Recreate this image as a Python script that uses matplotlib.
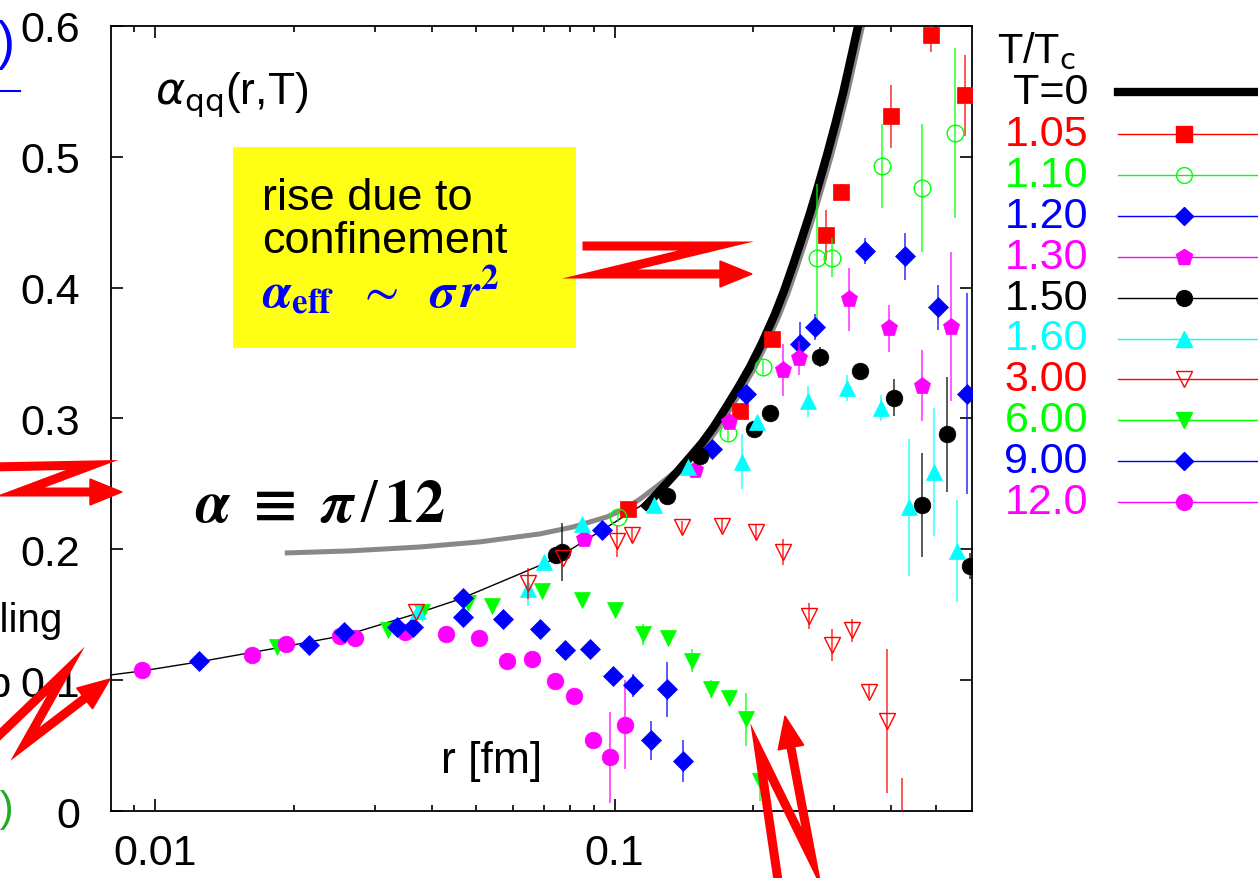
import matplotlib
matplotlib.use("Agg")
import matplotlib.pyplot as plt
from matplotlib.lines import Line2D
from matplotlib.patches import Polygon, Rectangle
from matplotlib.ticker import NullFormatter
import numpy as np

plt.rcParams['font.family'] = ['Liberation Sans', 'DejaVu Sans']

# T = 0 curves
r_pert = [0.00799, 0.00933, 0.01243, 0.01866, 0.0261, 0.03636, 0.04604, 0.06003,
          0.07122, 0.08115, 0.09622, 0.1136, 0.1255]
a_pert = [0.104, 0.107, 0.114, 0.125, 0.1346, 0.150, 0.162, 0.179,
          0.190, 0.201, 0.217, 0.233, 0.246]
r_t0 = [0.1153, 0.1224, 0.1300, 0.1373, 0.1459, 0.1549, 0.1637, 0.1696, 0.1756, 0.1856,
        0.1971, 0.2094, 0.2235, 0.2338, 0.2446, 0.2546, 0.2664, 0.2774, 0.2900, 0.3020,
        0.3144, 0.3256, 0.3389, 0.3528]
a_t0 = [0.231, 0.2408, 0.2508, 0.2599, 0.2706, 0.2813, 0.2928, 0.3012, 0.3096, 0.3234,
        0.3394, 0.3578, 0.3800, 0.3976, 0.4174, 0.4358, 0.4572, 0.4778, 0.5015, 0.5245,
        0.5489, 0.5726, 0.6001, 0.629]
r_pi12 = [0.01912, 0.0265, 0.03767, 0.05088, 0.06876, 0.08115, 0.09622, 0.1053, 0.1136,
          0.1255, 0.1353, 0.1459, 0.1581, 0.1671, 0.1730, 0.1792, 0.1894, 0.2011, 0.2136,
          0.2280, 0.2386, 0.2496, 0.2598, 0.2718, 0.2829, 0.2960, 0.3081, 0.3207, 0.3321,
          0.3458, 0.3600]
a_pi12 = [0.1972, 0.1988, 0.2018, 0.2057, 0.2118, 0.2171, 0.2248, 0.2309, 0.2385,
          0.250, 0.2592, 0.2676, 0.2798, 0.2913, 0.2997, 0.3081, 0.3219, 0.3379, 0.3563,
          0.3784, 0.3960, 0.4159, 0.4343, 0.4557, 0.4763, 0.5000, 0.5229, 0.5474, 0.5711,
          0.5986, 0.6269]

# T/Tc = 1.05
r_105 = [0.107, 0.187, 0.220, 0.289, 0.311, 0.400, 0.489, 0.580]
a_105 = [0.231, 0.306, 0.361, 0.440, 0.473, 0.531, 0.593, 0.547]
e_105 = [0.004, 0.004, 0.005, 0.019, 0.006, 0.024, 0.013, 0.031]
# 1.10
r_110 = [0.1017, 0.1766, 0.2105, 0.2756, 0.297, 0.382, 0.467, 0.551]
a_110 = [0.225, 0.289, 0.339, 0.423, 0.423, 0.493, 0.476, 0.518]
e_110 = [0.004, 0.006, 0.006, 0.056, 0.015, 0.032, 0.049, 0.065]
# 1.20
r_120 = [0.0938, 0.1629, 0.1932, 0.2532, 0.2732, 0.351, 0.429, 0.506, 0.586]
a_120 = [0.215, 0.277, 0.319, 0.357, 0.370, 0.428, 0.424, 0.385, 0.319]
e_120 = [0.0, 0.0, 0.0, 0.017, 0.01, 0.01, 0.018, 0.017, 0.077]
# 1.30
r_130 = [0.0857, 0.1496, 0.1774, 0.2326, 0.2521, 0.324, 0.396, 0.467, 0.540]
a_130 = [0.208, 0.261, 0.297, 0.337, 0.346, 0.391, 0.369, 0.325, 0.370]
e_130 = [0.0, 0.0, 0.0, 0.02, 0.013, 0.024, 0.018, 0.027, 0.057]
# 1.50
r_150 = [0.0745, 0.0768, 0.130, 0.1534, 0.2011, 0.218, 0.280, 0.342, 0.406, 0.467, 0.530, 0.594]
a_150 = [0.196, 0.198, 0.241, 0.271, 0.292, 0.304, 0.347, 0.336, 0.316, 0.234, 0.288, 0.187]
e_150 = [0.0, 0.022, 0.0, 0.0, 0.006, 0.0, 0.008, 0.0, 0.014, 0.040, 0.044, 0.01]
# 1.60
r_160 = [0.0373, 0.0647, 0.0702, 0.0849, 0.1218, 0.1444, 0.1894, 0.2042, 0.2637, 0.3207,
         0.3803, 0.4377, 0.4963, 0.5569]
a_160 = [0.153, 0.170, 0.190, 0.219, 0.234, 0.263, 0.267, 0.297, 0.313, 0.323,
         0.308, 0.232, 0.259, 0.199]
e_160 = [0.0, 0.013, 0.0, 0.0, 0.0, 0.0, 0.021, 0.0, 0.012, 0.01, 0.01, 0.052, 0.049, 0.039]
# 3.00
r_300 = [0.0369, 0.0647, 0.0772, 0.1012, 0.1091, 0.1402, 0.1713, 0.2032, 0.2326, 0.2651,
         0.2974, 0.3289, 0.3581, 0.392, 0.4226]
a_300 = [0.152, 0.174, 0.193, 0.206, 0.211, 0.217, 0.218, 0.213, 0.198, 0.149,
         0.127, 0.138, 0.091, 0.069, -0.03]
e_300 = [0.0, 0.012, 0.0, 0.012, 0.006, 0.005, 0.005, 0.006, 0.01, 0.01,
         0.012, 0.009, 0.005, 0.055, 0.055]
# 6.00
r_600 = [0.0184, 0.0321, 0.0381, 0.0479, 0.0540, 0.0694, 0.0849, 0.1001, 0.1153, 0.1307,
         0.1474, 0.1622, 0.1775, 0.1933, 0.2074]
a_600 = [0.125, 0.138, 0.152, 0.159, 0.157, 0.168, 0.161, 0.154, 0.135, 0.132,
         0.115, 0.093, 0.086, 0.070, 0.023]
e_600 = [0.0, 0.0, 0.0, 0.0, 0.0, 0.0, 0.0, 0.0, 0.008, 0.005,
         0.009, 0.007, 0.0, 0.02, 0.015]
# 9.00
r_900 = [0.01243, 0.02158, 0.02572, 0.03357, 0.03636, 0.04671, 0.04671, 0.0571, 0.06876,
         0.07795, 0.08836, 0.0992, 0.1096, 0.1300, 0.1200, 0.1409]
a_900 = [0.115, 0.127, 0.137, 0.141, 0.141, 0.163, 0.148, 0.147, 0.139,
         0.123, 0.124, 0.103, 0.096, 0.093, 0.054, 0.038]
e_900 = [0.0, 0.0, 0.0, 0.0, 0.0, 0.0, 0.0, 0.0, 0.0,
         0.0, 0.0, 0.0, 0.009, 0.021, 0.015, 0.016]
# 12.0
r_1200 = [0.00934, 0.01621, 0.01922, 0.0252, 0.0272, 0.0349, 0.0429, 0.0506, 0.0583,
          0.0660, 0.0741, 0.0815, 0.0897, 0.0976, 0.1053]
a_1200 = [0.108, 0.119, 0.128, 0.134, 0.132, 0.137, 0.135, 0.132, 0.115,
          0.116, 0.099, 0.088, 0.054, 0.041, 0.066]
e_1200 = [0.0, 0.0, 0.0, 0.0, 0.0, 0.0, 0.0, 0.0, 0.0,
          0.0, 0.005, 0.0, 0.0, 0.035, 0.034]

labels = ['1.05', '1.10', '1.20', '1.30', '1.50', '1.60', '3.00', '6.00', '9.00', '12.0']

RED, GREEN, BLUE, MAG, CYAN, BLACK = '#ff0000', '#00ff00', '#0000ff', '#ff00ff', '#00ffff', '#000000'
# color, marker, filled, size, data
series = {
    '1.05': (RED, 's', True, 11.5, r_105, a_105, e_105),
    '1.10': (GREEN, 'o', False, 12, r_110, a_110, e_110),
    '1.20': (BLUE, 'D', True, 10, r_120, a_120, e_120),
    '1.30': (MAG, 'p', True, 12.5, r_130, a_130, e_130),
    '1.50': (BLACK, 'o', True, 12, r_150, a_150, e_150),
    '1.60': (CYAN, '^', True, 12, r_160, a_160, e_160),
    '3.00': (RED, 'v', False, 12, r_300, a_300, e_300),
    '6.00': (GREEN, 'v', True, 12, r_600, a_600, e_600),
    '9.00': (BLUE, 'D', True, 10, r_900, a_900, e_900),
    '12.0': (MAG, 'o', True, 12, r_1200, a_1200, e_1200),
}
draw_order = ['6.00', '12.0', '9.00', '1.05', '1.10', '1.20', '1.30', '1.50', '1.60', '3.00']

W, H = 1258, 879
def fx(px):
    return px / W
def fy(py):
    return 1 - py / H

fig = plt.figure(figsize=(W / 100, H / 100), dpi=100)
ax = fig.add_axes([fx(111), fy(812), (972 - 111) / W, (812 - 27) / H])

ax.plot(r_pi12, a_pi12, color='#888888', lw=3.6, solid_capstyle='butt', zorder=2)
ax.plot(r_t0, a_t0, color='black', lw=6, solid_capstyle='butt', zorder=2.1)
ax.plot(r_pert, a_pert, color='black', lw=1.0, zorder=2.2)

z = 3
for lab in draw_order:
    c, m, filled, ms, r, a, e = series[lab]
    r = np.array(r); a = np.array(a); e = np.array(e)
    has = e > 0
    ax.errorbar(r[has], a[has], yerr=e[has], fmt='none', ecolor=c, alpha=0.65,
                elinewidth=1.4, capsize=0, zorder=z)
    ax.plot(r, a, ls='none', marker=m, ms=ms, color=c,
            mfc=c if filled else 'none', mec=c, mew=1.0 if not filled else 0.5, zorder=z + 0.1)
    z += 0.2

ax.set_xscale('log')
ax.set_xlim(0.008, 0.6)
ax.set_ylim(0, 0.6)
ax.set_xticks([0.01, 0.1])
ax.set_xticklabels(['0.01', '0.1'])
ax.set_xticks([0.009, 0.02, 0.03, 0.04, 0.05, 0.06, 0.07, 0.08, 0.09, 0.2, 0.3, 0.4, 0.5], minor=True)
ax.xaxis.set_minor_formatter(NullFormatter())
ax.set_yticks([0, 0.1, 0.2, 0.3, 0.4, 0.5, 0.6])
ax.set_yticklabels(['0', '0.1', '0.2', '0.3', '0.4', '0.5', '0.6'])
ax.tick_params(which='both', direction='in', top=True, right=True, width=1.2, labelsize=31)
ax.tick_params(which='major', length=8.5)
ax.tick_params(which='minor', length=4.5)
ax.tick_params(axis='x', pad=16)
ax.tick_params(axis='y', pad=22)
for s in ax.spines.values():
    s.set_linewidth(1.3)

# annotations
fig.text(fx(155), fy(104), r'$\alpha_{\rm qq}$(r,T)', fontsize=32, va='baseline',
         math_fontfamily='dejavusans')
fig.add_artist(Rectangle((fx(233), fy(349)), (576 - 233) / W, (349 - 148) / H,
                         transform=fig.transFigure, facecolor='#ffff14', edgecolor='none', zorder=1))
fig.text(fx(262), fy(210), 'rise due to', fontsize=32.5, va='baseline', zorder=2)
fig.text(fx(262), fy(253), 'confinement', fontsize=32.5, va='baseline', zorder=2)
fig.text(fx(262), fy(308),
         r'$\boldsymbol{\alpha}_{\mathbf{eff}}\ \ \sim\ \ \boldsymbol{\sigma}\,\boldsymbol{r}^{\mathbf{2}}$',
         fontsize=36, va='baseline', color=BLUE, math_fontfamily='stix', zorder=2)
fig.text(fx(195), fy(522),
         r'$\boldsymbol{\alpha}\ \mathbf{\equiv}\ \boldsymbol{\pi}\,/\,\mathbf{12}$',
         fontsize=43, va='baseline', math_fontfamily='stix')
fig.text(fx(441), fy(773), 'r [fm]', fontsize=32, va='baseline')

# slide fragments cut at the left edge
fig.text(fx(16), fy(45), '(Q)', fontsize=38, ha='right', va='center', color=BLUE)
fig.add_artist(Line2D([0, fx(20)], [fy(92), fy(92)], color=BLUE, lw=1.5, transform=fig.transFigure))
fig.text(fx(63), fy(632), 'coupling', fontsize=29, ha='right', va='baseline')
fig.text(fx(12), fy(697), 'sub', fontsize=31, ha='right', va='baseline')
fig.text(fx(14), fy(810), '(c)', fontsize=30, ha='right', va='center', color='#22aa22')

# red zigzag arrows
def zigzag(pts, lw=6.5, head_len=32, head_w=13):
    pts = np.array(pts, dtype=float)
    tip = pts[-1]
    d = tip - pts[-2]
    u = d / np.hypot(*d)
    base = tip - head_len * u
    perp = np.array([-u[1], u[0]])
    line = np.vstack([pts[:-1], base])
    fig.add_artist(Line2D(fx(line[:, 0]), fy(line[:, 1]), color=RED, lw=lw,
                          solid_joinstyle='miter', transform=fig.transFigure, zorder=5))
    head = np.array([base + head_w * perp, tip, base - head_w * perp])
    fig.add_artist(Polygon(np.column_stack([fx(head[:, 0]), fy(head[:, 1])]),
                           closed=True, color=RED, transform=fig.transFigure, zorder=5))

zigzag([(587, 247), (716, 247), (600, 275), (752, 275)])
zigzag([(-10, 468), (92, 466), (20, 493), (122, 493)])
zigzag([(-10, 745), (66, 672), (25, 745), (110, 680)])
zigzag([(780, 895), (759, 752), (812, 860), (785, 717)])

# legend, drawn by hand to the right of the axes
fig.text(fx(997), fy(63), r'T/T$_{\rm c}$', fontsize=30, va='baseline', math_fontfamily='dejavusans')
fig.text(fx(1088), fy(93), 'T=0', fontsize=31, ha='right', va='center')
fig.add_artist(Line2D([fx(1118), fx(1258)], [fy(93), fy(93)], color='black', lw=6,
                      transform=fig.transFigure))
for i, lab in enumerate(labels):
    c, m, filled, ms, r, a, e = series[lab]
    yy = 135 + 40.9 * i
    fig.text(fx(1088), fy(yy), lab, fontsize=31, ha='right', va='center', color=c)
    fig.add_artist(Line2D([fx(1118), fx(1258)], [fy(yy), fy(yy)], color=c, lw=1.0,
                          transform=fig.transFigure))
    fig.add_artist(Line2D([fx(1184)], [fy(yy)], color=c, marker=m, ms=ms * 0.95, ls='none',
                          mfc=c if filled else 'none', mec=c, mew=1.0,
                          transform=fig.transFigure))

fig.savefig('out.png', dpi=100)
